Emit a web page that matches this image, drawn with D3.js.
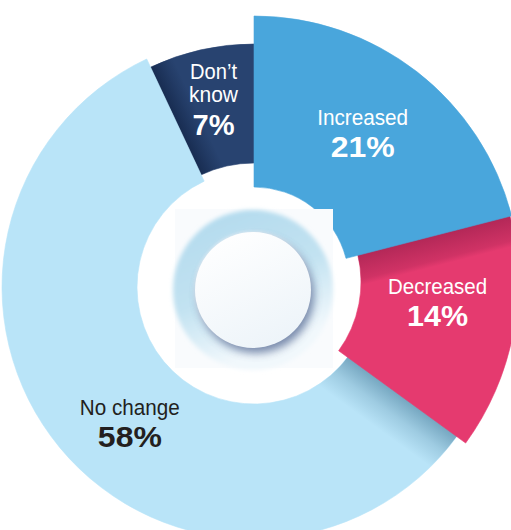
<!DOCTYPE html>
<html>
<head>
<meta charset="utf-8">
<script src="https://cdn.jsdelivr.net/npm/d3@7"></script>
<style>
  html, body { margin: 0; padding: 0; background: #fff; }
  svg { display: block; }
</style>
</head>
<body>
<script>
// Survey answers: share of respondents per answer
const categories  = ["Increased", "Decreased", "No change", "Don’t know"];
const values      = [21, 14, 58, 7];
const valueLabels = ["21%", "14%", "58%", "7%"];

const W = 511, H = 530;

// Each wedge sits on its own centre with its own radii (exploded donut look)
const sliceGeom = {
  "Increased":  { cx: 254, cy: 282, r0: 95,  r1: 266 },
  "Decreased":  { cx: 244, cy: 282, r0: 117, r1: 274 },
  "No change":  { cx: 254, cy: 287, r0: 117, r1: 252 },
  "Don’t know": { cx: 254, cy: 287, r0: 124, r1: 243 }
};
// Label anchor nudges relative to each wedge's centroid
const labelNudge = {
  "Increased":  [-2, 2],
  "Decreased":  [1.5, -8.5],
  "No change":  [18, 26],
  "Don’t know": [-0.5, -3]
};
const nameLines = { "Don’t know": ["Don’t", "know"] };
const textColor = { "No change": "#231f20" };
// set widths of the condensed label lettering
const nameWidth  = { "Increased": 91, "Decreased": 99, "No change": 100, "Don’t": 47, "know": 49 };
const valueWidth = { "21%": 64, "14%": 61, "58%": 64, "7%": 42 };

const color = d3.scaleOrdinal()
  .domain(categories)
  .range(["#49a6dc", "#e53a6f", "#b9e4f8", "#284370"]);

const data = categories.map((c, i) => ({ cat: c, value: values[i], label: valueLabels[i] }));
const pie = d3.pie().sort(null).value(d => d.value);
const arcs = pie(data);
const byCat = {};
arcs.forEach(a => { byCat[a.data.cat] = a; });

const svg = d3.select("body").append("svg")
  .attr("width", W).attr("height", H)
  .attr("viewBox", `0 0 ${W} ${H}`);
const defs = svg.append("defs");

// soft shading cast by one wedge's edge onto its clockwise neighbour
function edgeShade(id, edgeCat, targetCat, width, col, stops) {
  const e = byCat[edgeCat], g = sliceGeom[edgeCat], t = sliceGeom[targetCat];
  const a = e.endAngle;
  const ux = Math.sin(a), uy = -Math.cos(a);
  const nx = Math.cos(a), ny = Math.sin(a);
  const r = (g.r0 + g.r1) / 2;
  const ex = g.cx + ux * r - t.cx, ey = g.cy + uy * r - t.cy;
  const back = 4;
  const total = width + back;
  const grad = defs.append("linearGradient")
    .attr("id", id).attr("gradientUnits", "userSpaceOnUse")
    .attr("x1", ex - nx * back).attr("y1", ey - ny * back)
    .attr("x2", ex + nx * width).attr("y2", ey + ny * width);
  grad.append("stop").attr("offset", 0).attr("stop-color", col).attr("stop-opacity", 0);
  stops.forEach(([o, op]) => grad.append("stop")
    .attr("offset", (back + o * width) / total)
    .attr("stop-color", col).attr("stop-opacity", op));
  return `url(#${id})`;
}

const shade = {
  "Don’t know": edgeShade("shDK", "No change", "Don’t know", 24, "#0b1a38",
                  [[0, 0.55], [0.6, 0.2], [1, 0]]),
  "No change":  edgeShade("shNC", "Decreased", "No change", 40, "#3f7593",
                  [[0, 0.55], [0.5, 0.22], [1, 0]]),
  "Decreased":  edgeShade("shDE", "Increased", "Decreased", 30, "#6e0f37",
                  [[0, 0.42], [0.8, 0.18], [1, 0]])
};
// shading only covers the leading part of a wedge (radians)
const shadeSpan = 0.6;

const drawOrder = ["Don’t know", "No change", "Decreased", "Increased"];

const slices = svg.append("g").attr("class", "slices");
drawOrder.forEach(cat => {
  const a = byCat[cat], g = sliceGeom[cat];
  const arcGen = d3.arc().innerRadius(g.r0).outerRadius(g.r1);
  const grp = slices.append("g").attr("transform", `translate(${g.cx},${g.cy})`);
  grp.append("path")
    .attr("d", arcGen(a))
    .attr("fill", color(cat))
    .attr("stroke", color(cat))
    .attr("stroke-width", 0.6);
  if (shade[cat]) {
    const lead = {
      startAngle: a.startAngle,
      endAngle: Math.min(a.endAngle, a.startAngle + shadeSpan)
    };
    grp.append("path").attr("d", arcGen(lead)).attr("fill", shade[cat]);
  }
});

// central ornament: a soft ring around a raised white disc
const blur2 = defs.append("filter").attr("id", "blur2")
  .attr("x", "-30%").attr("y", "-30%").attr("width", "160%").attr("height", "160%");
blur2.append("feGaussianBlur").attr("stdDeviation", 2);
const blur4 = defs.append("filter").attr("id", "blur4")
  .attr("x", "-30%").attr("y", "-30%").attr("width", "160%").attr("height", "160%");
blur4.append("feGaussianBlur").attr("stdDeviation", 4);

const ringGrad = defs.append("linearGradient").attr("id", "ringGrad")
  .attr("x1", 0).attr("y1", 0).attr("x2", 0.4).attr("y2", 1);
ringGrad.append("stop").attr("offset", 0).attr("stop-color", "#b3dbee");
ringGrad.append("stop").attr("offset", 0.55).attr("stop-color", "#c2e2f1");
ringGrad.append("stop").attr("offset", 1).attr("stop-color", "#f1f8fc");

const discGrad = defs.append("linearGradient").attr("id", "discGrad")
  .attr("x1", 0.2).attr("y1", 0).attr("x2", 0.7).attr("y2", 1);
discGrad.append("stop").attr("offset", 0).attr("stop-color", "#ffffff");
discGrad.append("stop").attr("offset", 1).attr("stop-color", "#edf4f9");

const ornament = svg.append("g").attr("transform", "translate(253,290)");
ornament.append("rect").attr("x", -78).attr("y", -81).attr("width", 158).attr("height", 159)
  .attr("fill", "#f9fbfd");
ornament.append("circle").attr("r", 69)
  .attr("fill", "none").attr("stroke", "url(#ringGrad)").attr("stroke-width", 22)
  .attr("filter", "url(#blur2)");
ornament.append("circle").attr("cx", 3).attr("cy", 5).attr("r", 58)
  .attr("fill", "#4f6590").attr("opacity", 0.75).attr("filter", "url(#blur4)");
ornament.append("circle").attr("r", 58).attr("fill", "url(#discGrad)");

// labels
const nameFont  = "'Liberation Sans Narrow', 'Liberation Sans', Arial, sans-serif";
const valueFont = "'Liberation Sans', Arial, sans-serif";
const labels = svg.append("g").attr("class", "labels").attr("text-anchor", "middle");
arcs.forEach(a => {
  const cat = a.data.cat, g = sliceGeom[cat];
  const [mx, my] = d3.arc().innerRadius(g.r0).outerRadius(g.r1).centroid(a);
  const [nx, ny] = labelNudge[cat];
  const lines = nameLines[cat] || [cat];
  const fill = textColor[cat] || "#ffffff";
  const grp = labels.append("g")
    .attr("transform", `translate(${g.cx + mx + nx},${g.cy + my + ny})`);
  const multi = lines.length > 1;
  lines.forEach((ln, i) => {
    grp.append("text")
      .attr("y", multi ? -26 + 23 * i : -16)
      .attr("font-family", nameFont)
      .attr("font-size", 22)
      .attr("textLength", nameWidth[ln])
      .attr("lengthAdjust", "spacingAndGlyphs")
      .attr("fill", fill)
      .text(ln);
  });
  grp.append("text")
    .attr("y", multi ? 30 : 16)
    .attr("font-family", valueFont)
    .attr("font-weight", "bold")
    .attr("font-size", 30)
    .attr("textLength", valueWidth[a.data.label])
    .attr("lengthAdjust", "spacingAndGlyphs")
    .attr("fill", fill)
    .text(a.data.label);
});
</script>
</body>
</html>
